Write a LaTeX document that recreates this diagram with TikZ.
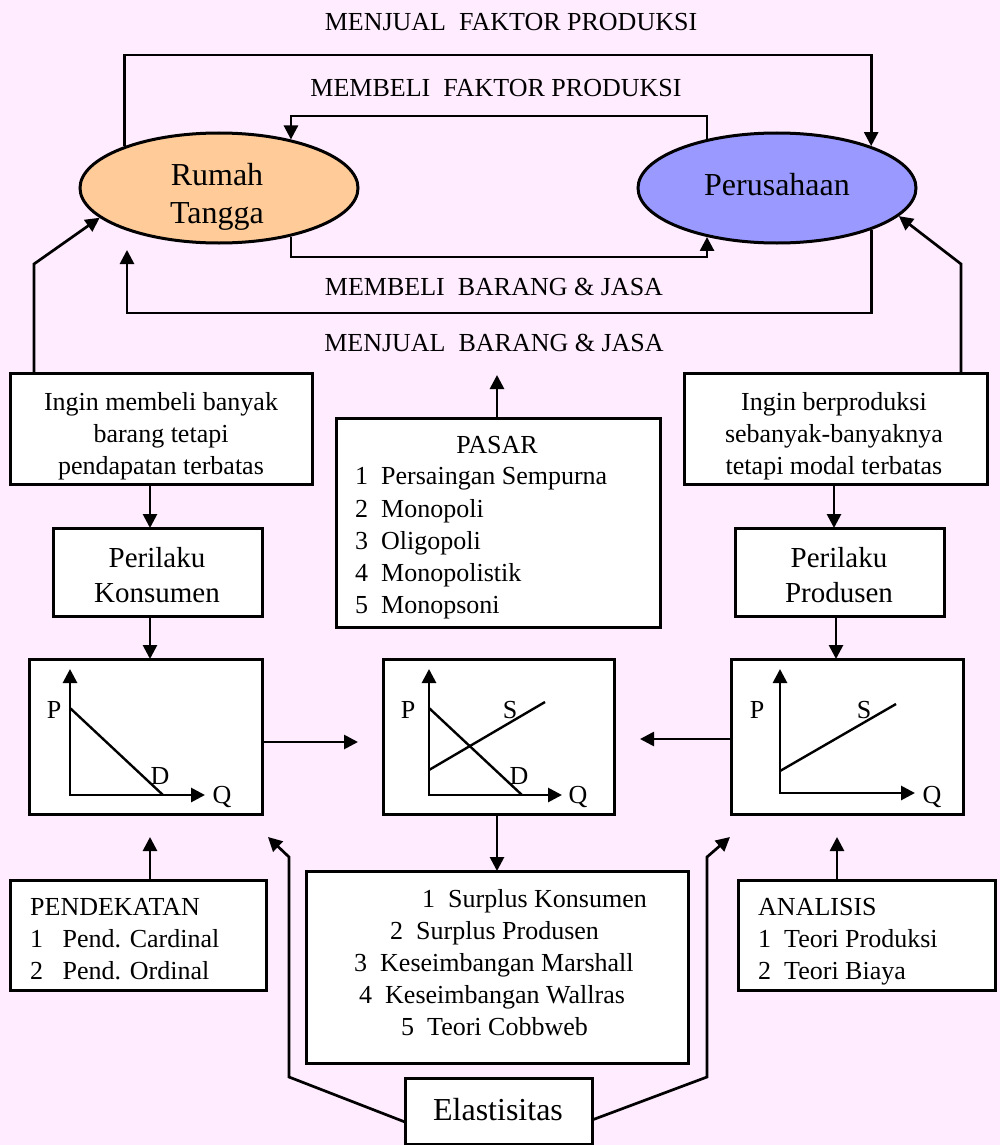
\documentclass[tikz,border=0pt]{standalone}
\usepackage{fontspec}
\setmainfont{Liberation Serif}
\usetikzlibrary{arrows.meta,shapes.geometric}
\definecolor{bgpink}{RGB}{255,236,255}
\definecolor{rtfill}{RGB}{255,204,153}
\definecolor{pufill}{RGB}{153,153,255}
\begin{document}
\begin{tikzpicture}[x=1pt,y=-1pt,
  conn/.style={line width=2.7pt},
  arr/.style={conn,-{Triangle[length=14pt,width=14pt]}},
  axisl/.style={line width=2.8pt,{Triangle[length=14pt,width=14pt]}-{Triangle[length=14pt,width=14pt]}},
  curve/.style={line width=2.4pt},
  boxn/.style={draw,line width=3pt,fill=white,rectangle,inner sep=0pt,outer sep=0pt},
  ell/.style={draw,line width=3pt,ellipse,minimum width=278pt,minimum height=110pt,inner sep=0pt},
  txt/.style={inner sep=0pt,font=\fontsize{26}{32.5}\selectfont},
  btxt/.style={txt,anchor=base},
  ltxt/.style={txt,anchor=base west},
  mid/.style={inner sep=0pt,anchor=base,font=\fontsize{29}{35}\selectfont},
  big/.style={inner sep=0pt,anchor=base,font=\fontsize{32}{38}\selectfont}
]
\fill[bgpink] (0,0) rectangle (1000,1145);
\useasboundingbox (0,0) rectangle (1000,1145);

% ---- labels of the circular flow
\node[txt] (lbl1) at (511,22) {MENJUAL\ \ FAKTOR PRODUKSI};
\node[txt] (lbl2) at (496,88) {MEMBELI\ \ FAKTOR PRODUKSI};
\node[txt] (lbl3) at (494,287) {MEMBELI\ \ BARANG \& JASA};
\node[txt] (lbl4) at (494,343) {MENJUAL\ \ BARANG \& JASA};

% ---- ellipses
\node[ell,fill=rtfill] (rt) at (219,188) {};
\node[big] (rt1) at (217,185) {Rumah};
\node[big] (rt2) at (217,223) {Tangga};
\node[ell,fill=pufill] (pu) at (777,188) {};
\node[big] (pu1) at (777,195) {Perusahaan};

% ---- boxes
\node[boxn,minimum width=302pt,minimum height=111pt] (wantbuy) at (161,428.5) {};
\node[btxt] at (161,410) {Ingin membeli banyak};
\node[btxt] at (161,442) {barang tetapi};
\node[btxt] at (161,474) {pendapatan terbatas};

\node[boxn,minimum width=303pt,minimum height=111pt] (wantprod) at (835.5,428.5) {};
\node[btxt] at (834,410) {Ingin berproduksi};
\node[btxt] at (834,442) {sebanyak-banyaknya};
\node[btxt] at (834,474) {tetapi modal terbatas};

\node[boxn,minimum width=209pt,minimum height=88pt] (konsumen) at (157.5,572) {};
\node[mid] at (157,567) {Perilaku};
\node[mid] at (157,602) {Konsumen};

\node[boxn,minimum width=209pt,minimum height=88pt] (produsen) at (839.5,572) {};
\node[mid] at (839,567) {Perilaku};
\node[mid] at (839,602) {Produsen};

\node[boxn,minimum width=324pt,minimum height=209pt] (pasar) at (498,522.5) {};
\node[btxt] at (497,453) {PASAR};
\node[ltxt] at (355,484) {1~~Persaingan Sempurna};
\node[ltxt] at (355,517) {2~~Monopoli};
\node[ltxt] at (355,549) {3~~Oligopoli};
\node[ltxt] at (355,581) {4~~Monopolistik};
\node[ltxt] at (355,613) {5~~Monopsoni};

% ---- graph boxes
\node[boxn,minimum width=233pt,minimum height=155pt] (g1) at (145.5,736.5) {};
\node[boxn,minimum width=231pt,minimum height=155pt] (g2) at (498.5,736.5) {};
\node[boxn,minimum width=232pt,minimum height=155pt] (g3) at (847,736.5) {};

% graph 1
\draw[axisl] (70,669) -- (70,795) -- (205,795);
\draw[curve] (70,708) -- (163,795);
\node[txt] (g1p) at (54,710) {P};
\node[txt] (g1d) at (160,776) {D};
\node[txt] (g1q) at (222,797) {Q};
% graph 2
\draw[axisl] (429,669) -- (429,795) -- (562,795);
\draw[curve] (429,708) -- (522,795);
\draw[curve] (429,770) -- (545,702);
\node[txt] (g2p) at (408,710) {P};
\node[txt] (g2s) at (510,710) {S};
\node[txt] (g2d) at (519,776) {D};
\node[txt] (g2q) at (578,797) {Q};
% graph 3
\draw[axisl] (780,669) -- (780,793) -- (915,793);
\draw[curve] (780,771) -- (896,704);
\node[txt] (g3p) at (757,710) {P};
\node[txt] (g3s) at (864,710) {S};
\node[txt] (g3q) at (932,797) {Q};

% ---- bottom boxes
\node[boxn,minimum width=256pt,minimum height=110pt] (pend) at (138,935) {};
\node[ltxt] at (30,915) {PENDEKATAN};
\node[ltxt] at (30,947) {1~~~Pend. Cardinal};
\node[ltxt] at (30,979) {2~~~Pend. Ordinal};

\node[boxn,minimum width=257pt,minimum height=110pt] (anal) at (866.5,935) {};
\node[ltxt] at (758,915) {ANALISIS};
\node[ltxt] at (758,947) {1~~Teori Produksi};
\node[ltxt] at (758,979) {2~~Teori Biaya};

\node[boxn,minimum width=382pt,minimum height=192pt] (surplus) at (497,967) {};
\node[ltxt] at (422,907) {1~~Surplus Konsumen};
\node[ltxt] at (390,939) {2~~Surplus Produsen};
\node[ltxt] at (354,971) {3~~Keseimbangan Marshall};
\node[ltxt] at (359,1003) {4~~Keseimbangan Wallras};
\node[ltxt] at (401,1035) {5~~Teori Cobbweb};

\node[boxn,minimum width=187pt,minimum height=66pt] (elast) at (498.5,1111) {};
\node[big] at (498,1120) {Elastisitas};

% ---- free ends
\coordinate (rtin) at (127,250);
\coordinate (pasarup) at (497,375);
\coordinate (g12) at (358,742);
\coordinate (g32) at (640,739);
\coordinate (pendup) at (150,837);
\coordinate (analup) at (837,837);
\coordinate (elL) at (268,837);
\coordinate (elR) at (730,837);

% ---- circular flow connectors
\draw[arr] (rt.156) -- (rt.156 |- 0,55) -- (pu.24 |- 0,55) -- (pu.24);
\draw[arr] (pu.145) -- (pu.145 |- 0,116) -- (rt.34 |- 0,116) -- (rt.34);
\draw[arr] (rt.-34) -- (rt.-34 |- 0,257) -- (pu.-145 |- 0,257) -- (pu.-145);
\draw[arr] (pu.-24) -- (pu.-24 |- 0,313) -- (rtin |- 0,313) -- (rtin);

% ---- other connectors
\draw[arr] (34,0 |- wantbuy.north) -- (34,264) -- (rt.194);
\draw[arr] (961,0 |- wantprod.north) -- (961,264) -- (pu.-13);
\draw[arr] (150,0 |- wantbuy.south) -- (150,0 |- konsumen.north);
\draw[arr] (150,0 |- konsumen.south) -- (150,0 |- g1.north);
\draw[arr] (834,0 |- wantprod.south) -- (834,0 |- produsen.north);
\draw[arr] (836,0 |- produsen.south) -- (836,0 |- g3.north);
\draw[arr] (pasarup |- pasar.north) -- (pasarup);
\draw[arr] (g1.east |- g12) -- (g12);
\draw[arr] (g3.west |- g32) -- (g32);
\draw[arr] (497,0 |- g2.south) -- (497,0 |- surplus.north);
\draw[arr] (pendup |- pend.north) -- (pendup);
\draw[arr] (analup |- anal.north) -- (analup);
\draw[arr] (elast.west |- 0,1122) -- (289,1077) -- (289,857) -- (elL);
\draw[arr] (elast.east |- 0,1120) -- (707,1077) -- (707,857) -- (elR);
\end{tikzpicture}
\end{document}
